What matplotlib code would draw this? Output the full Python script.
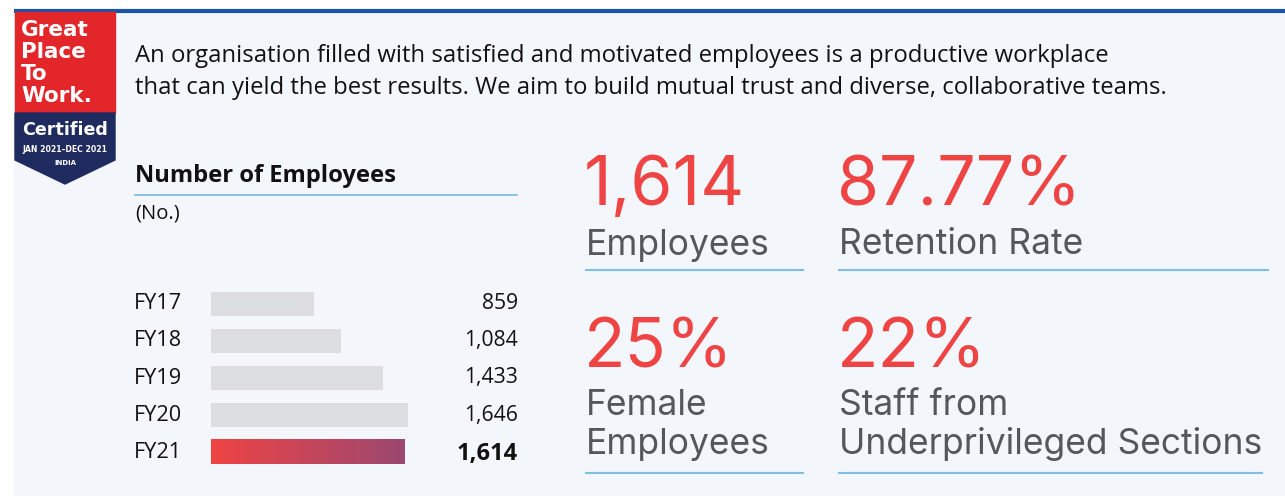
import numpy as np
import matplotlib
matplotlib.use("Agg")
from matplotlib import pyplot as plt
from matplotlib import transforms
from matplotlib.patches import Polygon, Rectangle

# data
years = ["FY17", "FY18", "FY19", "FY20", "FY21"]
employees = [859, 1084, 1433, 1646, 1614]
value_labels = ["859", "1,084", "1,433", "1,646", "1,614"]

kpi_values = ["1,614", "87.77%", "25%", "22%"]
kpi_labels = ["Employees", "Retention Rate", "Female\nEmployees",
              "Staff from\nUnderprivileged Sections"]

intro = ("An organisation filled with satisfied and motivated employees is a productive workplace\n"
         "that can yield the best results. We aim to build mutual trust and diverse, collaborative teams.")

W, H = 1285, 496
BG = "#f3f7fc"
RED = "#ef4444"
GREY = "#54575b"
LINE = "#7fbde6"
body_font = ["Open Sans", "DejaVu Sans"]
kpi_font = ["Inter", "DejaVu Sans"]
badge_font = ["DejaVu Sans"]

fig = plt.figure(figsize=(W / 100, H / 100), dpi=100)
fig.patch.set_facecolor("white")

# full-figure canvas in pixel coords for the decoration
bg = fig.add_axes([0, 0, 1, 1])
bg.set_xlim(0, W)
bg.set_ylim(H, 0)
bg.axis("off")
bg.add_patch(Rectangle((14, 11), W, H, color=BG, zorder=0))
bg.plot([14, W], [10.5, 10.5], color="#1d56a6", lw=3, solid_capstyle="butt")

# Great Place To Work badge
bg.add_patch(Rectangle((15, 12), 100, 101, color="#e3262a", zorder=2))
bg.add_patch(Polygon([(15, 113), (115, 113), (115, 160), (65, 184), (15, 160)],
                     closed=True, color="#1f2a5e", zorder=2))
for i, word in enumerate(["Great", "Place", "To", "Work."]):
    bg.text(21, 30 + i * 22, word, color="white", fontsize=15.5, fontweight="bold",
            family=badge_font, va="center", ha="left", zorder=3)
bg.text(65, 130, "Certified", color="white", fontsize=12.6, fontweight="bold",
        family=badge_font, va="center", ha="center", zorder=3)
bg.text(65, 150, "JAN 2021–DEC 2021", color="white", fontsize=5.6, fontweight="bold",
        family=badge_font, va="center", ha="center", zorder=3)
bg.text(65, 163, "INDIA", color="white", fontsize=5.0, fontweight="bold",
        family=badge_font, va="center", ha="center", zorder=3)

# intro paragraph
bg.text(135, 72, intro, fontsize=17.2, family=body_font, color="#111111",
        va="center", ha="left", linespacing=1.5)

# bar chart heading
bg.text(135, 176, "Number of Employees", fontsize=17.1, fontweight="bold",
        family=body_font, color="#111111", va="center", ha="left")
bg.plot([135, 517], [195, 195], color=LINE, lw=1.3)
bg.text(135, 214, "(No.)", fontsize=14.6, family=body_font, color="#111111",
        va="center", ha="left")

# KPI blocks
cols = [586, 839]
rows = [(187, 245, 270), (350, None, 473)]
line_ends = [803, 1268, 803, 1262]
for k, (val, lab) in enumerate(zip(kpi_values, kpi_labels)):
    x = cols[k % 2]
    vy, ly, uy = rows[k // 2]
    bg.text(x - 2, vy, val, fontsize=49, family=kpi_font, color=RED,
            va="center", ha="left")
    if ly is None:
        bg.text(x, 425, lab, fontsize=25.5, family=kpi_font, color=GREY,
                va="center", ha="left", linespacing=1.22)
    else:
        bg.text(x, ly, lab, fontsize=25.5, family=kpi_font, color=GREY,
                va="center", ha="left")
    bg.plot([x, line_ends[k]], [uy, uy], color=LINE, lw=1.5)

# horizontal bar chart
px_per_unit = 197 / 1646
ax_left, ax_w = 211, 220
ax_top, ax_bot = 285, 471
ax = fig.add_axes([ax_left / W, 1 - ax_bot / H, ax_w / W, (ax_bot - ax_top) / H])
ax.axis("off")
ax.patch.set_alpha(0)

ypos = np.arange(len(years))
bars = ax.barh(ypos, employees, height=0.65, color="#dcdde0")

# gradient on the latest year
last = bars[-1]
last.set_facecolor("none")
grad = np.linspace(0, 1, 256).reshape(1, -1)
cmap = matplotlib.colors.LinearSegmentedColormap.from_list("g", ["#ef4444", "#9b4870"])
x0, y0 = last.get_x(), last.get_y()
ax.imshow(grad, cmap=cmap, aspect="auto",
          extent=[x0, x0 + last.get_width(), y0 + last.get_height(), y0],
          clip_path=last, clip_on=True, interpolation="bicubic")
ax.set_xlim(0, ax_w / px_per_unit)
ax.set_ylim(len(years) - 0.5, -0.5)

tr = transforms.blended_transform_factory(fig.transFigure, ax.transData)
for i, (yr, lab) in enumerate(zip(years, value_labels)):
    ax.text(134 / W, i, yr, transform=tr, fontsize=15.6, family=body_font,
            color="#111111", va="center", ha="left")
    bold = i == len(years) - 1
    ax.text(518 / W, i + (0.04 if bold else 0), lab, transform=tr,
            fontsize=17 if bold else 15.2, fontweight="bold" if bold else "normal",
            family=body_font, color="#111111", va="center", ha="right")

fig.savefig("out.png", dpi=100, facecolor=fig.get_facecolor())
